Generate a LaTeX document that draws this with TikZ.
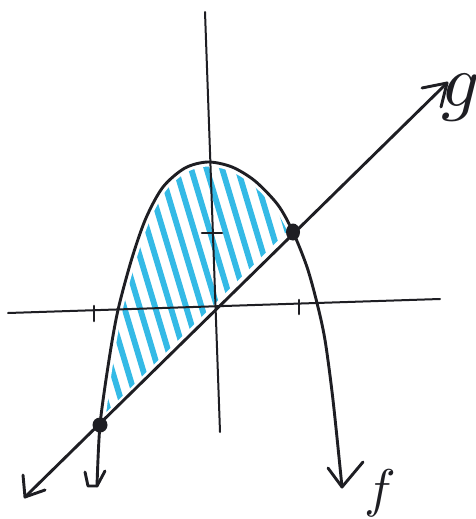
\documentclass[tikz,border=0pt]{standalone}
\definecolor{hatch}{RGB}{52,186,230}
\definecolor{inkc}{RGB}{30,30,35}
\begin{document}
\begin{tikzpicture}[x=1pt,y=-1pt,
  ink/.style={line width=2.9pt, draw=inkc, line cap=round, line join=round},
  axis/.style={line width=2pt, draw=inkc, line cap=round},
  hatchline/.style={line width=5.8pt, draw=hatch, line cap=round},
  dotmark/.style={fill=inkc},
  lbl/.style={inner sep=0pt, text=inkc}]
\useasboundingbox (0,0) rectangle (476,519);
\fill[white] (0,0) rectangle (476,519);
% key points
\coordinate (P) at (100,425);
\coordinate (Q) at (293,232);
\coordinate (gL) at (25,497);
\coordinate (gR) at (447,83);
\coordinate (yTop) at (205,12);
\coordinate (yBot) at (220,432);
\coordinate (xL) at (8,313);
\coordinate (xR) at (440,299);
\coordinate (fL) at (97,486);
\coordinate (fR) at (342,487);
% shading
\begin{scope}
  \clip (P) -- (Q) -- plot[smooth] coordinates {(293,232) (278,205) (255,181) (232,167) (208,162) (185,168) (163,187) (146,218) (132,258) (118,310) (109,360) (100,425)} -- cycle;
  \foreach \i in {0,...,17} { \draw[hatchline] (15+15.5*\i,150) -- ++(90,300); }
  \draw[white, line width=9pt] (P) -- (Q) -- plot[smooth] coordinates {(293,232) (278,205) (255,181) (232,167) (208,162) (185,168) (163,187) (146,218) (132,258) (118,310) (109,360) (100,425)};
\end{scope}
% axes
\draw[axis] (yTop) -- (yBot);
\draw[axis] (xL) -- (xR);
% ticks
\draw[axis, line width=2.6pt] (94,306) -- (94,321);
\draw[axis, line width=2.6pt] (299,300) -- (299,314);
\draw[axis, line width=2.6pt] (202,233) -- (222,233);
% line g
\draw[ink] (gL) -- (gR);
\draw[ink] (422,88) -- (gR) -- (441,107);
\draw[ink] (23,475) -- (gL) -- (45,490);
% parabola f
\draw[ink] plot[smooth] coordinates {(fL) (100,425) (109,360) (118,310) (132,258) (146,218) (163,187) (185,168) (208,162) (232,167) (255,181) (278,205) (293,232) (307,267) (317,303) (325,340) (333,400) (fR)};
\draw[ink] (328,468) -- (fR) -- (363,462);
\draw[ink] (85,472) -- (88,486) -- (fL) -- (105,471);
% intersection dots
\fill[dotmark] (P) circle (7.5);
\fill[dotmark] (Q) ellipse (7 and 8.5);
% labels
\node[lbl, scale=7.5] (glabel) at (461,98) {$g$};
\node[lbl, scale=5.3] (flabel) at (380,493) {$f$};
\end{tikzpicture}
\end{document}
